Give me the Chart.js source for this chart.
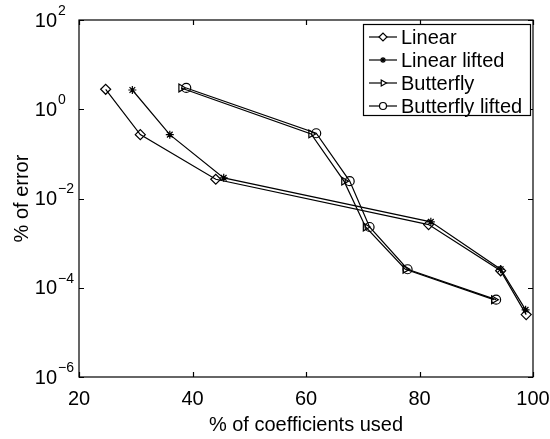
<!DOCTYPE html>
<html>
<head>
<meta charset="utf-8">
<script src="https://cdn.jsdelivr.net/npm/chart.js@4.4.1/dist/chart.umd.min.js"></script>
<style>
    html, body { margin: 0; padding: 0; background: #fff; }
</style>
</head>
<body>
<canvas id="errorChart" width="550" height="439"></canvas>
<script>
// datos
const seriesNames = ['Linear', 'Linear lifted', 'Butterfly', 'Butterfly lifted'];

const linearX = [24.7, 30.8, 44.1, 81.6, 94.3, 98.8];
const linearY = [2.8, 0.27, 0.027, 0.0026, 0.00024, 0.000025];

const linearLiftedX = [29.4, 36.0, 45.5, 82.0, 94.3, 98.7];
const linearLiftedY = [2.7, 0.27, 0.029, 0.003, 0.00026, 0.000032];

const butterflyX = [38.0, 60.9, 66.7, 70.5, 77.5, 93.1];
const butterflyY = [3.0, 0.28, 0.0245, 0.0023, 0.00026, 0.000054];

const butterflyLiftedX = [38.9, 61.8, 67.7, 71.2, 77.9, 93.5];
const butterflyLiftedY = [3.0, 0.29, 0.0245, 0.0023, 0.00026, 0.000054];

const xTicks = [20, 40, 60, 80, 100];
const yTickExponents = [-6, -4, -2, 0, 2];

const FONT = '"Liberation Sans", Arial, Helvetica, sans-serif';

function toPoints(xs, ys) {
    return xs.map((x, i) => ({ x: x, y: ys[i] }));
}

// estilos de marcador (tipo matlab)
const markers = [
    { pointStyle: 'rectRot', radius: 5, rotation: 0 },
    { pointStyle: 'star', radius: 4, rotation: 0 },
    { pointStyle: 'triangle', radius: 4.5, rotation: 90 },
    { pointStyle: 'circle', radius: 4.5, rotation: 0 }
];

const allData = [
    toPoints(linearX, linearY),
    toPoints(linearLiftedX, linearLiftedY),
    toPoints(butterflyX, butterflyY),
    toPoints(butterflyLiftedX, butterflyLiftedY)
];

const datasets = allData.map((pts, i) => ({
    label: seriesNames[i],
    data: pts,
    borderColor: '#000',
    borderWidth: 1.2,
    backgroundColor: 'rgba(0,0,0,0)',
    pointStyle: markers[i].pointStyle,
    pointRadius: markers[i].radius,
    pointRotation: markers[i].rotation,
    pointBorderColor: '#000',
    pointBorderWidth: 1.2,
    pointBackgroundColor: 'rgba(0,0,0,0)',
    tension: 0,
    fill: false
}));

// ejes, ticks hacia adentro, etiquetas y leyenda
const framePlugin = {
    id: 'frame',
    afterDraw(chart) {
        const ctx = chart.ctx;
        const area = chart.chartArea;
        const xs = chart.scales.x;
        const ys = chart.scales.y;
        const tl = 5;

        ctx.save();
        ctx.strokeStyle = '#000';
        ctx.lineWidth = 1.2;
        ctx.strokeRect(area.left, area.top, area.right - area.left, area.bottom - area.top);

        ctx.beginPath();
        xTicks.forEach(v => {
            const px = Math.round(xs.getPixelForValue(v)) + 0.5;
            ctx.moveTo(px, area.bottom); ctx.lineTo(px, area.bottom - tl);
            ctx.moveTo(px, area.top); ctx.lineTo(px, area.top + tl);
        });
        yTickExponents.forEach(e => {
            const py = Math.round(ys.getPixelForValue(Math.pow(10, e))) + 0.5;
            ctx.moveTo(area.left, py); ctx.lineTo(area.left + tl, py);
            ctx.moveTo(area.right, py); ctx.lineTo(area.right - tl, py);
        });
        ctx.stroke();

        ctx.fillStyle = '#000';
        ctx.textBaseline = 'middle';

        // etiquetas x
        ctx.font = '20px ' + FONT;
        ctx.textAlign = 'center';
        xTicks.forEach(v => {
            ctx.fillText(String(v), xs.getPixelForValue(v), 399);
        });

        // etiquetas y con exponente
        yTickExponents.forEach(e => {
            const py = ys.getPixelForValue(Math.pow(10, e));
            ctx.font = '20px ' + FONT;
            ctx.textAlign = 'right';
            ctx.fillText('10', 57, py + 1);
            ctx.font = '14px ' + FONT;
            ctx.textAlign = 'left';
            ctx.fillText(e < 0 ? '\u2212' + (-e) : String(e), 58, py - 9);
        });

        // titulos
        ctx.font = '20px ' + FONT;
        ctx.textAlign = 'center';
        ctx.fillText('% of coefficients used', (area.left + area.right) / 2, 425);
        ctx.save();
        ctx.translate(22, (area.top + area.bottom) / 2);
        ctx.rotate(-Math.PI / 2);
        ctx.fillText('% of error', 0, 0);
        ctx.restore();

        // leyenda
        const lx = 363, ly = 24, lw = 167, lh = 91;
        ctx.fillStyle = '#fff';
        ctx.fillRect(lx, ly, lw, lh);
        ctx.strokeStyle = '#000';
        ctx.lineWidth = 1.2;
        ctx.strokeRect(lx + 0.5, ly + 0.5, lw, lh);
        const rowY = [37, 60, 83, 106];
        seriesNames.forEach((name, i) => {
            const y = rowY[i];
            ctx.beginPath();
            ctx.moveTo(369, y);
            ctx.lineTo(397, y);
            ctx.stroke();
            ctx.fillStyle = '#fff';
            Chart.helpers.drawPoint(ctx, {
                pointStyle: markers[i].pointStyle,
                rotation: markers[i].rotation,
                radius: markers[i].radius - 1,
                borderWidth: 1.2
            }, 383, y);
            ctx.fillStyle = '#000';
            ctx.font = '20px ' + FONT;
            ctx.textAlign = 'left';
            ctx.fillText(name, 401, y + 1);
        });
        ctx.restore();
    }
};

const ctx = document.getElementById('errorChart').getContext('2d');
new Chart(ctx, {
    type: 'line',
    data: { datasets: datasets },
    options: {
        responsive: false,
        animation: false,
        devicePixelRatio: 1,
        layout: { padding: { left: 79, right: 17, top: 20, bottom: 62 } },
        plugins: {
            legend: { display: false },
            tooltip: { enabled: false }
        },
        scales: {
            x: { type: 'linear', min: 20, max: 100, display: false },
            y: { type: 'logarithmic', min: 1e-6, max: 1e2, display: false }
        }
    },
    plugins: [framePlugin]
});
</script>
</body>
</html>
